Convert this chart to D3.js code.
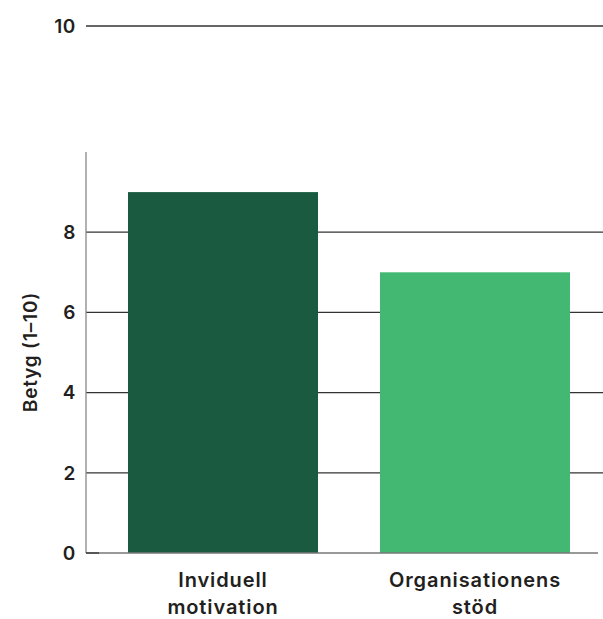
<!DOCTYPE html>
<html><head><meta charset="utf-8">
<script src="https://cdn.jsdelivr.net/npm/d3@7"></script>
<style>body{margin:0;background:#fff}svg{display:block}text{font-family:Inter,"Open Sans",sans-serif;fill:#231f20}</style>
</head><body>
<script>
const categories = [["Inviduell","motivation"],["Organisationens","stöd"]];
const values = [9, 7];
const colors = ["#195a41", "#42b873"];
const yTicks = [0, 2, 4, 6, 8, 10];
const yTitle = "Betyg (1–10)";

const W = 603, H = 619;
const svg = d3.select("body").append("svg").attr("width", W).attr("height", H);
const x0 = 86, x1 = 603;
const y = d3.scaleLinear().domain([0, 10]).range([553, 152]);
const x = d3.scaleBand().domain(categories.map((d,i)=>i)).range([97, 601]).paddingInner(0.246).paddingOuter(0.123);

const topShift = 126; // top "10" gridline drawn raised above axis
const grid = svg.append("g");
yTicks.filter(t=>t>0).forEach(t=>{
  const yy = y(t) - (t===10 ? topShift : 0);
  grid.append("line").attr("x1", x0).attr("x2", x1).attr("y1", yy).attr("y2", yy)
    .attr("stroke", "#333").attr("stroke-width", 1.3);
});
svg.append("g").selectAll("rect").data(values).join("rect")
  .attr("x", (d,i)=>x(i)).attr("width", x.bandwidth())
  .attr("y", d=>y(d)).attr("height", d=>y(0)-y(d))
  .attr("fill", (d,i)=>colors[i]);
svg.append("line").attr("x1", x0).attr("x2", x0).attr("y1", y(10)).attr("y2", y(0)).attr("stroke", "#888").attr("stroke-width", 1.3);
svg.append("line").attr("x1", x0).attr("x2", 598).attr("y1", y(0)).attr("y2", y(0)).attr("stroke", "#777").attr("stroke-width", 1.3);
svg.append("line").attr("x1", x0).attr("x2", x0+13).attr("y1", y(0)).attr("y2", y(0)).attr("stroke", "#333").attr("stroke-width", 1.3);
svg.append("g").selectAll("text").data(yTicks).join("text")
  .attr("x", 76).attr("y", t=>y(t) - (t===10 ? topShift : 0))
  .attr("dy", "0.36em").attr("text-anchor", "end")
  .attr("font-size", 19).attr("font-weight", 600).attr("letter-spacing", 0.6).text(t=>t);
categories.forEach((lines,i)=>{
  const cx = x(i)+x.bandwidth()/2;
  const t = svg.append("text").attr("text-anchor","middle").attr("font-size",20).attr("font-weight",600)
    .attr("letter-spacing", 0.9).attr("x", cx);
  lines.forEach((l,j)=>t.append("tspan").attr("x", cx).attr("y", 587 + j*27).text(l));
});
svg.append("text").attr("transform", "translate(37,352) rotate(-90)").attr("text-anchor","middle")
  .attr("font-size", 19).attr("font-weight", 600).attr("letter-spacing", 0.8).text(yTitle);
</script>
</body></html>
